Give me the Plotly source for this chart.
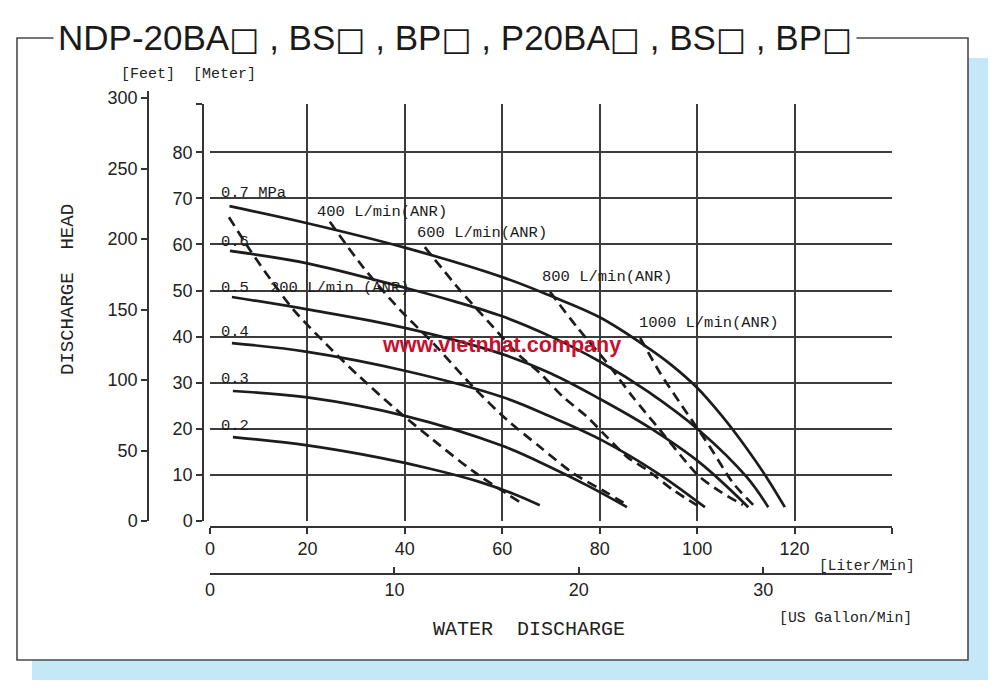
import plotly.graph_objects as go

# ---------------- data (flow in L/min, head in metres) ----------------
p07_flow = [4.0, 20.0, 40.0, 60.0, 70.0, 80.0, 90.0, 95.0, 100.0, 105.0, 110.0, 114.3, 118.0]
p07_head = [68.3, 64.6, 59.3, 52.9, 48.8, 44.2, 37.5, 33.6, 28.9, 22.9, 16.0, 9.4, 3.0]

p06_flow = [4.1, 20.0, 40.0, 50.0, 60.0, 70.0, 80.0, 90.0, 100.5, 110.2, 114.6]
p06_head = [58.6, 55.9, 50.6, 47.7, 44.4, 40.0, 34.6, 28.0, 19.6, 9.5, 3.0]

p05_flow = [4.5, 20.0, 40.0, 60.0, 70.0, 80.0, 90.0, 100.6, 110.5]
p05_head = [48.6, 45.9, 41.9, 36.2, 32.0, 26.5, 20.4, 12.6, 3.0]

p04_flow = [4.5, 20.0, 40.0, 60.0, 70.0, 80.5, 92.0, 101.6]
p04_head = [38.6, 36.7, 32.6, 26.9, 22.6, 17.5, 10.3, 3.0]

p03_flow = [4.7, 20.0, 40.0, 60.0, 70.0, 78.0, 85.6]
p03_head = [28.2, 26.8, 22.8, 16.3, 11.6, 7.4, 3.0]

p02_flow = [4.7, 20.0, 35.0, 45.0, 55.0, 62.0, 67.7]
p02_head = [18.2, 16.4, 13.7, 11.4, 8.6, 6.0, 3.4]

a200_flow = [3.9, 8.2, 12.3, 17.0, 24.0, 30.2, 38.4, 45.8, 54.0, 63.6]
a200_head = [65.9, 58.8, 52.6, 46.0, 38.2, 31.8, 24.0, 17.6, 10.8, 4.1]

a400_flow = [24.6, 31.4, 39.0, 45.8, 54.0, 61.0, 67.7, 74.5, 81.5, 85.6]
a400_head = [64.9, 55.1, 45.8, 38.6, 29.1, 21.9, 16.1, 10.4, 6.1, 3.5]

a600_flow = [44.1, 51.3, 58.1, 63.0, 67.7, 72.5, 77.4, 81.5, 85.6, 89.7, 95.1, 100.6]
a600_head = [59.4, 50.1, 42.1, 36.4, 32.1, 26.9, 22.6, 18.2, 13.9, 11.1, 6.7, 3.0]

a800_flow = [69.8, 75.3, 81.5, 86.8, 92.4, 97.9, 100.6, 105.0, 109.4]
a800_head = [49.7, 42.1, 34.3, 26.9, 19.7, 12.6, 9.5, 6.2, 3.5]

a1000_flow = [88.3, 92.4, 96.5, 102.6, 107.4, 111.5]
a1000_head = [39.7, 32.1, 25.6, 16.1, 8.2, 3.5]

solid_curves = [(p07_flow, p07_head), (p06_flow, p06_head), (p05_flow, p05_head),
                (p04_flow, p04_head), (p03_flow, p03_head), (p02_flow, p02_head)]
dashed_curves = [(a200_flow, a200_head), (a400_flow, a400_head), (a600_flow, a600_head),
                 (a800_flow, a800_head), (a1000_flow, a1000_head)]

pressure_labels = ["0.7 MPa", "0.6", "0.5", "0.4", "0.3", "0.2"]
pressure_label_x = [1.8, 1.8, 1.8, 1.8, 1.8, 1.8]
pressure_label_y = [71.2, 60.6, 50.6, 41.0, 30.8, 20.7]

air_labels = ["200 L/min (ANR)", "400 L/min(ANR)", "600 L/min(ANR)",
              "800 L/min(ANR)", "1000 L/min(ANR)"]
air_label_x = [12.0, 21.6, 42.1, 67.7, 87.7]
air_label_y = [50.5, 67.0, 62.5, 52.9, 42.9]

liter_ticks = [0, 20, 40, 60, 80, 100, 120, 140]
liter_ticktext = ["0", "20", "40", "60", "80", "100", "120", ""]
gallon_ticks = [0, 10, 20, 30]
meter_ticks = [0, 10, 20, 30, 40, 50, 60, 70, 80, 90.46]
meter_ticktext = ["0", "10", "20", "30", "40", "50", "60", "70", "80", ""]
feet_ticks = [0, 50, 100, 150, 200, 250, 300]

L_PER_GAL = 3.785411784
X_MAX = 140.0
Y_MAX_M = 90.46
Y_MAX_FT = 305.0

# ---------------- figure ----------------
W, H = 1000, 690
def px(x):
    return x / W
def py(y):
    return 1 - y / H

INK = "#1c1c1c"
GRID = "#3c3c3c"
NUM_FONT = dict(family="Liberation Sans Narrow, Liberation Sans, Arial, sans-serif", size=18, color="#222")
MONO = "Liberation Mono, DejaVu Sans Mono, monospace"

fig = go.Figure()

for fx, hy in solid_curves:
    fig.add_trace(go.Scatter(x=fx, y=hy, mode="lines",
                             line=dict(color=INK, width=2.7, shape="spline", smoothing=1.0),
                             hoverinfo="skip", showlegend=False))
for fx, hy in dashed_curves:
    fig.add_trace(go.Scatter(x=fx, y=hy, mode="lines",
                             line=dict(color=INK, width=2.7, dash="10px,6px", shape="spline", smoothing=0.8),
                             hoverinfo="skip", showlegend=False))

# invisible trace to activate the secondary (gallon / feet) axes
fig.add_trace(go.Scatter(x=[0], y=[0], xaxis="x2", yaxis="y2", mode="markers",
                         marker=dict(opacity=0), hoverinfo="skip", showlegend=False))

x_dom = [px(210), px(892)]
common = dict(tickmode="array", tickwidth=1.5, tickcolor="#333",
              showline=True, linecolor="#333", linewidth=1.5,
              tickfont=NUM_FONT, fixedrange=True, automargin=False)
fig.update_layout(
    width=W, height=H,
    margin=dict(l=0, r=0, t=0, b=0, pad=0),
    paper_bgcolor="white", plot_bgcolor="rgba(0,0,0,0)",
    xaxis=dict(domain=x_dom, range=[0, X_MAX], anchor="free", position=py(527),
               tickvals=liter_ticks, ticktext=liter_ticktext,
               ticks="outside", ticklen=6,
               showgrid=True, gridcolor=GRID, gridwidth=1.6,
               zeroline=True, zerolinecolor="rgba(0,0,0,0)", **common),
    yaxis=dict(domain=[py(521), py(104)], range=[0, Y_MAX_M], anchor="free", position=px(203),
               tickvals=meter_ticks, ticktext=meter_ticktext,
               ticks="outside", ticklen=6,
               showgrid=True, gridcolor=GRID, gridwidth=1.6,
               zeroline=True, zerolinecolor="rgba(0,0,0,0)", **common),
    xaxis2=dict(domain=x_dom, range=[0, X_MAX / L_PER_GAL], anchor="free", position=py(574),
                tickvals=gallon_ticks, ticks="inside", ticklen=6,
                showgrid=False, zeroline=False, **common),
    yaxis2=dict(domain=[py(521), py(91)], range=[0, Y_MAX_FT], anchor="free", position=px(148),
                tickvals=feet_ticks, ticks="outside", ticklen=6,
                showgrid=False, zeroline=False, **common),
)

# frame with blue shadow
fig.add_shape(type="rect", xref="paper", yref="paper",
              x0=px(32), x1=px(988), y0=py(680), y1=py(58),
              fillcolor="#c5e8f8", line=dict(width=0), layer="below")
fig.add_shape(type="rect", xref="paper", yref="paper",
              x0=px(17), x1=px(968), y0=py(660), y1=py(38),
              fillcolor="white", line=dict(color="#4a4a4a", width=1.6), layer="below")

annotations = []
box = "<span style='font-family:DejaVu Sans;font-size:32px'>□</span>"
title = ("NDP-20BA" + box + " , BS" + box + " , BP" + box + " , P20BA" + box +
         " , BS" + box + " , BP" + box)
annotations.append(dict(text=title, x=px(53), y=py(38), xref="paper", yref="paper",
                        xanchor="left", yanchor="middle", showarrow=False,
                        bgcolor="white", borderpad=4,
                        font=dict(family="Liberation Sans, Arial, sans-serif", size=35, color="#1a1a1a")))

for t, x, y in zip(pressure_labels, pressure_label_x, pressure_label_y):
    annotations.append(dict(text=t, x=x, y=y, xref="x", yref="y", xanchor="left", yanchor="middle",
                            showarrow=False, font=dict(family=MONO, size=15.5, color="#1a1a1a")))
for t, x, y in zip(air_labels, air_label_x, air_label_y):
    annotations.append(dict(text=t, x=x, y=y, xref="x", yref="y", xanchor="left", yanchor="middle",
                            showarrow=False, font=dict(family=MONO, size=15.5, color="#1a1a1a")))

annotations += [
    dict(text="[Feet]  [Meter]", x=px(119), y=py(74), xref="paper", yref="paper",
         xanchor="left", yanchor="middle", showarrow=False,
         font=dict(family=MONO, size=15, color="#222")),
    dict(text="DISCHARGE  HEAD", x=px(68), y=py(290), xref="paper", yref="paper",
         xanchor="center", yanchor="middle", textangle=-90, showarrow=False,
         font=dict(family=MONO, size=19, color="#222")),
    dict(text="WATER  DISCHARGE", x=px(529), y=py(629), xref="paper", yref="paper",
         xanchor="center", yanchor="middle", showarrow=False,
         font=dict(family=MONO, size=20, color="#222")),
    dict(text="[Liter/Min]", x=px(917), y=py(566), xref="paper", yref="paper",
         xanchor="right", yanchor="middle", showarrow=False,
         font=dict(family=MONO, size=14.5, color="#222")),
    dict(text="[US Gallon/Min]", x=px(914), y=py(618), xref="paper", yref="paper",
         xanchor="right", yanchor="middle", showarrow=False,
         font=dict(family=MONO, size=14.8, color="#222")),
    dict(text="<b>www.vietnhat.company</b>", x=px(501), y=py(345), xref="paper", yref="paper",
         xanchor="center", yanchor="middle", showarrow=False,
         font=dict(family="Liberation Sans, Arial, sans-serif", size=21.5, color="#c8102e")),
]
fig.update_layout(annotations=annotations)

fig.write_html("out.html", config={"displayModeBar": False},
               post_script="document.body.style.margin='0';")
